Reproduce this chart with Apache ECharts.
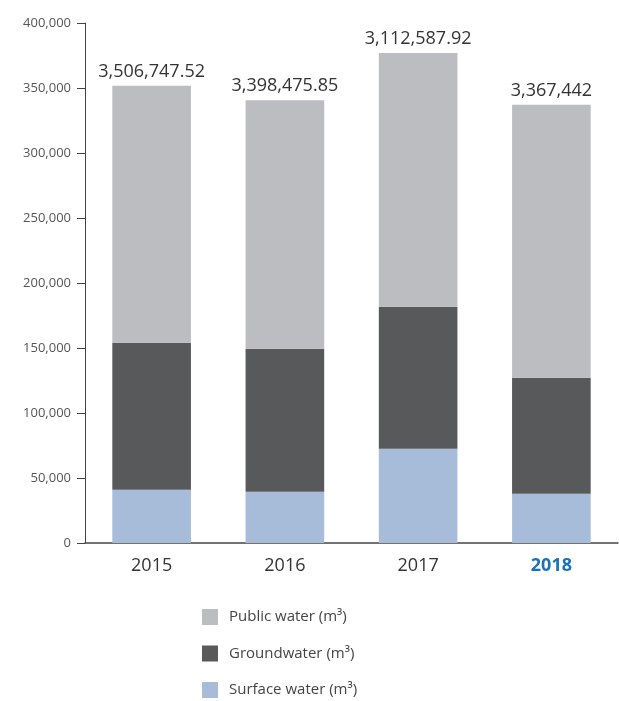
<!DOCTYPE html>
<html>
<head>
<meta charset="utf-8">
<script src="https://cdn.jsdelivr.net/npm/echarts@6/dist/echarts.min.js"></script>
<style>
html,body{margin:0;padding:0;background:#fff;}
#chart{width:619px;height:701px;}
</style>
</head>
<body>
<div id="chart"></div>
<script>
const years = ['2015', '2016', '2017', '2018'];
const surfaceWater = [41000, 39500, 72500, 37900];
const groundwater = [113100, 110000, 109300, 89300];
const publicWater = [197700, 191000, 195200, 210000];
const totalLabels = ['3,506,747.52', '3,398,475.85', '3,112,587.92', '3,367,442'];
const yTicks = { min: 0, max: 400000, interval: 50000 };
const seriesNames = ['Public water (m³)', 'Groundwater (m³)', 'Surface water (m³)'];

const FONT = 'Open Sans';
const chart = echarts.init(document.getElementById('chart'));
chart.setOption({
  animation: false,
  textStyle: { fontFamily: FONT },
  grid: { left: 85, right: 1, top: 23, bottom: 158, containLabel: false },
  legend: {
    orient: 'vertical',
    left: 202,
    top: 609,
    height: 120,
    padding: 0,
    itemWidth: 16,
    itemHeight: 16,
    itemGap: 20.5,
    icon: 'rect',
    data: seriesNames,
    textStyle: { fontFamily: FONT, fontSize: 15, color: '#444', padding: [0, 0, 0, 6] }
  },
  xAxis: {
    type: 'category',
    data: years,
    axisLine: { lineStyle: { color: '#444', width: 1.5 } },
    axisTick: { show: false },
    axisLabel: {
      margin: 14,
      fontSize: 18,
      color: '#333',
      fontFamily: FONT,
      formatter: function (v) { return v === '2018' ? '{b|' + v + '}' : v; },
      rich: { b: { fontSize: 18, fontWeight: 'bold', color: '#1a72b8', fontFamily: FONT } }
    }
  },
  yAxis: {
    type: 'value',
    min: yTicks.min,
    max: yTicks.max,
    interval: yTicks.interval,
    splitLine: { show: false },
    axisLine: { show: true, lineStyle: { color: '#444', width: 1 } },
    axisTick: { show: true, length: 8, lineStyle: { color: '#444' } },
    axisLabel: {
      margin: 14,
      fontSize: 13,
      color: '#555',
      fontFamily: FONT,
      formatter: function (v) { return v.toLocaleString('en-US'); }
    }
  },
  series: [
    {
      name: seriesNames[2], type: 'bar', stack: 'w', data: surfaceWater,
      barWidth: '59%', itemStyle: { color: '#a6bcd8' }
    },
    {
      name: seriesNames[1], type: 'bar', stack: 'w', data: groundwater,
      barWidth: '59%', itemStyle: { color: '#58595b' }
    },
    {
      name: seriesNames[0], type: 'bar', stack: 'w', data: publicWater,
      barWidth: '59%', itemStyle: { color: '#bcbdc1' },
      label: {
        show: true, position: 'top', distance: 5,
        fontSize: 18, color: '#333', fontFamily: FONT,
        formatter: function (p) { return totalLabels[p.dataIndex]; }
      }
    }
  ]
});
</script>
</body>
</html>
